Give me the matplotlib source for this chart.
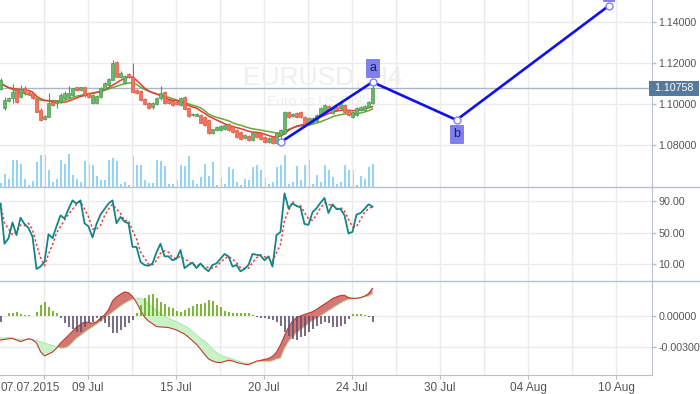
import numpy as np
import matplotlib
matplotlib.use("Agg")
import matplotlib.pyplot as plt
from matplotlib.transforms import ScaledTranslation, blended_transform_factory
from matplotlib.lines import Line2D

plt.rcParams['font.family'] = ['Liberation Sans', 'DejaVu Sans']

# --- data: EURUSD H4 candles ---
opens = [1.1073, 1.0979, 1.1016, 1.1028, 1.1068, 1.1033, 1.1077, 1.1060, 1.1052, 1.1023,
         1.0971, 1.0925, 1.0938, 1.1011, 1.1003, 1.1011, 1.1028, 1.1033, 1.1044, 1.1081,
         1.1068, 1.1081, 1.1052, 1.1003, 1.1003, 1.1036, 1.1072, 1.1093, 1.1117, 1.1206,
         1.1130, 1.1101, 1.1145, 1.1133, 1.1068, 1.1065, 1.1023, 1.1006, 1.0984, 1.1000,
         1.1028, 1.1060, 1.1020, 1.1016, 1.1011, 1.0995, 1.1036, 1.0979, 1.0945, 1.0943,
         1.0946, 1.0938, 1.0922, 1.0857, 1.0873, 1.0873, 1.0876, 1.0902, 1.0893, 1.0873,
         1.0865, 1.0833, 1.0844, 1.0824, 1.0860, 1.0857, 1.0838, 1.0816, 1.0838, 1.0808,
         1.0849, 1.0857, 1.0963, 1.0941, 1.0958, 1.0963, 1.0938, 1.0902, 1.0909, 1.0919,
         1.0946, 1.0962, 1.0990, 1.0955, 1.0987, 1.0979, 1.0995, 1.0971, 1.0938, 1.0946,
         1.0971, 1.0971, 1.0987, 1.1003]
highs = [1.1125, 1.1036, 1.1034, 1.1096, 1.1073, 1.1093, 1.1088, 1.1065, 1.1057, 1.1026,
         1.0980, 1.0945, 1.1052, 1.1016, 1.1020, 1.1055, 1.1062, 1.1088, 1.1080, 1.1083,
         1.1083, 1.1085, 1.1060, 1.1050, 1.1046, 1.1085, 1.1106, 1.1125, 1.1215, 1.1210,
         1.1160, 1.1140, 1.1150, 1.1199, 1.1072, 1.1070, 1.1028, 1.1010, 1.1010, 1.1033,
         1.1088, 1.1065, 1.1025, 1.1020, 1.1016, 1.1036, 1.1040, 1.0984, 1.0955, 1.0955,
         1.0950, 1.0943, 1.0927, 1.0880, 1.0893, 1.0898, 1.0900, 1.0906, 1.0898, 1.0878,
         1.0870, 1.0854, 1.0848, 1.0862, 1.0865, 1.0862, 1.0843, 1.0838, 1.0842, 1.0862,
         1.0880, 1.0968, 1.0968, 1.0954, 1.0963, 1.0968, 1.0943, 1.0935, 1.0935, 1.0950,
         1.0984, 1.1000, 1.0995, 1.0984, 1.0992, 1.1008, 1.1000, 1.0976, 1.0966, 1.0984,
         1.0988, 1.0994, 1.1016, 1.1109]
lows = [1.1068, 1.0971, 1.1012, 1.1003, 1.1003, 1.1028, 1.1044, 1.1044, 1.1023, 1.0960,
        1.0916, 1.0920, 1.0935, 1.0990, 1.0979, 1.1006, 1.1023, 1.1028, 1.1040, 1.1065,
        1.1065, 1.1036, 1.1030, 1.1000, 1.0998, 1.1030, 1.1068, 1.1090, 1.1115, 1.1130,
        1.1125, 1.1098, 1.1125, 1.1052, 1.1048, 1.1015, 1.0995, 1.0975, 1.0978, 1.0995,
        1.1020, 1.1000, 1.1002, 1.0990, 1.0995, 1.0990, 1.0970, 1.0936, 1.0940, 1.0940,
        1.0905, 1.0893, 1.0852, 1.0852, 1.0866, 1.0868, 1.0872, 1.0868, 1.0860, 1.0833,
        1.0823, 1.0828, 1.0819, 1.0820, 1.0833, 1.0823, 1.0811, 1.0812, 1.0805, 1.0804,
        1.0813, 1.0852, 1.0933, 1.0936, 1.0933, 1.0933, 1.0890, 1.0897, 1.0905, 1.0914,
        1.0942, 1.0958, 1.0966, 1.0950, 1.0966, 1.0975, 1.0958, 1.0942, 1.0934, 1.0942,
        1.0967, 1.0967, 1.0983, 1.1000]
closes = [1.1117, 1.1020, 1.1028, 1.1060, 1.1011, 1.1072, 1.1060, 1.1049, 1.1028, 1.0962,
          1.0922, 1.0941, 1.1006, 1.0995, 1.1016, 1.1044, 1.1052, 1.1052, 1.1077, 1.1068,
          1.1081, 1.1044, 1.1036, 1.1044, 1.1040, 1.1077, 1.1101, 1.1120, 1.1201, 1.1133,
          1.1153, 1.1137, 1.1130, 1.1060, 1.1052, 1.1020, 1.1000, 1.0979, 1.1006, 1.1028,
          1.1055, 1.1003, 1.1006, 1.0995, 1.1000, 1.1028, 1.0974, 1.0941, 1.0951, 1.0950,
          1.0909, 1.0898, 1.0857, 1.0876, 1.0888, 1.0893, 1.0896, 1.0873, 1.0865, 1.0838,
          1.0828, 1.0849, 1.0824, 1.0857, 1.0838, 1.0828, 1.0816, 1.0833, 1.0808, 1.0857,
          1.0873, 1.0963, 1.0938, 1.0949, 1.0938, 1.0938, 1.0898, 1.0930, 1.0930, 1.0946,
          1.0979, 1.0995, 1.0971, 1.0979, 1.0971, 1.1003, 1.0962, 1.0946, 1.0962, 1.0979,
          1.0984, 1.0990, 1.1011, 1.10758]
volumes = [400, 1340, 840, 2670, 2670, 2340, 840, 170, 600, 2500,
           3170, 3170, 1670, 500, 840, 2670, 2340, 3270, 1170, 840,
           500, 2570, 2340, 2170, 1070, 740, 740, 2740, 2900, 2570,
           340, 500, 170, 3070, 2170, 2170, 740, 400, 400, 2740,
           2570, 2070, 270, 270, 740, 2170, 2070, 3070, 700, 300,
           1000, 2340, 1070, 2500, 170, 1000, 340, 2000, 1840, 500,
           170, 840, 670, 2000, 2170, 1740, 940, 340, 500, 2000,
           2170, 3170, 340, 500, 2070, 670, 2170, 2670, 340, 1170,
           500, 2170, 1670, 1000, 340, 500, 2170, 1670, 1740, 170,
           1070, 840, 2000, 2270]
ma_fast = [1.1100, 1.1090, 1.1080, 1.1076, 1.1073, 1.1071, 1.1068, 1.1066, 1.1059, 1.1038,
           1.1026, 1.1018, 1.1015, 1.1011, 1.1009, 1.1007, 1.1009, 1.1014, 1.1022, 1.1029,
           1.1037, 1.1041, 1.1046, 1.1052, 1.1056, 1.1061, 1.1070, 1.1080, 1.1091, 1.1103,
           1.1115, 1.1124, 1.1131, 1.1132, 1.1116, 1.1097, 1.1078, 1.1064, 1.1055, 1.1049,
           1.1041, 1.1032, 1.1023, 1.1018, 1.1016, 1.1011, 1.1004, 1.0993, 1.0985, 1.0980,
           1.0967, 1.0955, 1.0941, 1.0932, 1.0922, 1.0913, 1.0904, 1.0896, 1.0890, 1.0885,
           1.0880, 1.0874, 1.0867, 1.0863, 1.0862, 1.0859, 1.0853, 1.0846, 1.0841, 1.0838,
           1.0844, 1.0854, 1.0871, 1.0883, 1.0892, 1.0897, 1.0900, 1.0906, 1.0916, 1.0927,
           1.0936, 1.0945, 1.0953, 1.0961, 1.0965, 1.0969, 1.0971, 1.0969, 1.0967, 1.0969,
           1.0971, 1.0976, 1.0981, 1.0987]
ma_slow = [1.1102, 1.1090, 1.1080, 1.1071, 1.1063, 1.1056, 1.1051, 1.1045, 1.1039, 1.1027,
           1.1018, 1.1017, 1.1017, 1.1016, 1.1016, 1.1016, 1.1019, 1.1024, 1.1032, 1.1038,
           1.1042, 1.1047, 1.1050, 1.1054, 1.1057, 1.1060, 1.1067, 1.1073, 1.1080, 1.1086,
           1.1093, 1.1099, 1.1102, 1.1103, 1.1096, 1.1082, 1.1071, 1.1063, 1.1056, 1.1049,
           1.1042, 1.1038, 1.1033, 1.1026, 1.1020, 1.1013, 1.1007, 1.1001, 1.0994, 1.0989,
           1.0981, 1.0968, 1.0952, 1.0942, 1.0935, 1.0930, 1.0924, 1.0918, 1.0909, 1.0901,
           1.0897, 1.0890, 1.0884, 1.0879, 1.0876, 1.0873, 1.0869, 1.0866, 1.0862, 1.0858,
           1.0859, 1.0866, 1.0876, 1.0883, 1.0889, 1.0893, 1.0895, 1.0897, 1.0901, 1.0907,
           1.0913, 1.0921, 1.0929, 1.0938, 1.0943, 1.0948, 1.0951, 1.0951, 1.0951, 1.0953,
           1.0956, 1.0961, 1.0967, 1.0976]

# oscillator (0-100)
osc = [87, 36, 43, 63, 47, 69, 61, 56, 45, 4,
       7, 13, 48, 43, 58, 72, 68, 80, 91, 87,
       91, 62, 58, 44, 61, 73, 80, 87, 91, 62,
       70, 64, 62, 32, 32, 13, 9, 8, 11, 25,
       36, 20, 20, 15, 17, 28, 5, 9, 12, 5,
       11, 5, 1, 9, 11, 17, 23, 20, 7, 9,
       1, 4, 9, 23, 22, 21, 15, 20, 7, 47,
       51, 100, 81, 87, 84, 82, 61, 60, 76, 81,
       88, 94, 75, 86, 80, 80, 72, 49, 51, 73,
       75, 80, 86, 83]

# MACD panel (x 1e-5)
macd_fast = [-232, -227, -221, -217, -233, -248, -234, -220, -230, -260,
             -345, -386, -368, -349, -312, -263, -225, -187, -147, -108,
             -83, -58, -62, -71, -56, -20, 10, 60, 145, 185,
             210, 233, 225, 190, 130, 55, -10, -50, -75, -102,
             -106, -108, -112, -123, -135, -155, -175, -205, -240, -275,
             -320, -370, -415, -435, -448, -451, -440, -428, -435, -450,
             -458, -467, -470, -455, -437, -430, -420, -412, -390, -350,
             -280, -190, -110, -50, -15, 0, 15, 28, 41, 63,
             90, 115, 140, 168, 185, 198, 200, 178, 171, 171,
             178, 192, 215, 268]
macd_slow = [-216, -212, -207, -213, -222, -226, -226, -226, -228, -237,
             -249, -262, -275, -287, -300, -312, -311, -295, -258, -218,
             -190, -160, -133, -108, -82, -56, -20, 5, 35, 65,
             95, 120, 143, 160, 171, 172, 150, 120, 85, 55,
             25, -5, -20, -40, -55, -75, -95, -118, -150, -185,
             -220, -240, -280, -320, -355, -378, -392, -405, -418, -432,
             -445, -455, -458, -450, -442, -442, -442, -442, -435, -418,
             -410, -320, -250, -205, -165, -135, -105, -75, -45, -25,
             0, 25, 50, 75, 100, 122, 145, 158, 166, 171,
             175, 183, 192, 213]
macd_hist = [-55, 0, 26, 29, 36, 16, 5, 5, 2, 40,
             106, 138, 84, 52, 26, -22, -71, -103, -129, -152,
             -152, -110, -71, -55, -22, -45, -71, -103, -168, -161,
             -135, -103, -71, -39, 26, 106, 171, 203, 213, 171,
             138, 116, 90, 74, 52, 40, 55, 80, 99, 112,
             118, 124, 150, 144, 111, 86, 53, 37, 31, 27,
             31, 27, 27, 8, -5, -18, -18, -27, -37, -60,
             -92, -156, -189, -221, -231, -205, -189, -156, -124, -92,
             -76, -60, -69, -102, -102, -92, -82, -27, 15, 15,
             18, 11, -5, -60]

# wave drawing (bar index, price)
wave_bars = [70, 93, 114, 152]
wave_prices = [1.0813, 1.1107, 1.0922, 1.1478]
wave_labels = ['', 'a', 'b', 'c']
last_price = 1.10758

tick_labels = ['07.07.2015', '09 Jul', '15 Jul', '20 Jul', '24 Jul', '30 Jul', '04 Aug', '10 Aug']
tick_slots = [1, 2, 4, 6, 8, 10, 12, 14]

n = len(closes)
x = np.arange(n)
o = np.array(opens); c = np.array(closes)
h = np.array(highs); l = np.array(lows)

W, H = 700, 394
fig = plt.figure(figsize=(7, 3.94), dpi=100)


def frame(top, bottom):
    return [0, (H - bottom) / H, 652 / W, (bottom - top) / H]


grid_col = '#ebebeb'
axis_col = '#b8c0cc'
txt_col = '#555555'

ax_vol = fig.add_axes(frame(0, 187))
ax_p = fig.add_axes(frame(0, 187), sharex=ax_vol)
ax_o = fig.add_axes(frame(187, 281), sharex=ax_vol)
ax_m = fig.add_axes(frame(281, 375), sharex=ax_vol)
ax_p.patch.set_alpha(0)

ax_vol.axis('off')
ax_vol.vlines(x, 0, volumes, color='#7fcdf5', lw=1.2)
ax_vol.set_ylim(0, 18700)
ax_vol.set_xlim(-0.125, 162.875)

grid_x = np.arange(1, 15) * 11 - 0.125
for ax in (ax_p, ax_o, ax_m):
    ax.set_xticks([grid_x[k - 1] for k in tick_slots])
    ax.set_xticks(grid_x, minor=True)
    ax.grid(True, which='both', axis='x', color=grid_col, lw=1)
    ax.grid(True, which='major', axis='y', color=grid_col, lw=1)
    ax.set_axisbelow(True)
    ax.yaxis.tick_right()
    ax.tick_params(axis='y', which='both', direction='out', length=3, width=1,
                   color=axis_col, labelcolor=txt_col, labelsize=7.7, pad=1.5)
    for s in ('left', 'top', 'bottom'):
        ax.spines[s].set_visible(False)
    ax.spines['right'].set_color(axis_col)
ax_p.tick_params(axis='x', which='both', length=0, labelbottom=False)
ax_o.tick_params(axis='x', which='both', length=0, labelbottom=False)
ax_m.spines['bottom'].set_visible(True)
ax_m.spines['bottom'].set_color(axis_col)
ax_m.tick_params(axis='x', which='major', length=3, color=axis_col,
                 labelcolor=txt_col, labelsize=8.5, pad=2)
ax_m.tick_params(axis='x', which='minor', length=0)
ax_m.set_xticklabels(tick_labels)
first = ax_m.get_xticklabels()[0]
first.set_transform(first.get_transform() + ScaledTranslation(-0.14, 0, fig.dpi_scale_trans))

# --- price panel ---
ax_p.set_ylim(1.059512, 1.150732)
ax_p.set_yticks([1.08, 1.10, 1.12, 1.14])
ax_p.set_yticklabels(['1.08000', '1.10000', '1.12000', '1.14000'])

ax_p.text(243 / 652, 1 - 77 / 187, 'EURUSD, H4', transform=ax_p.transAxes,
          fontsize=19, color='#efefef', ha='left', va='center', zorder=0.5)
ax_p.text(267 / 652, 1 - 102 / 187, 'Euro vs US Dollar', transform=ax_p.transAxes,
          fontsize=10, color='#efefef', ha='left', va='center', zorder=0.5)

ax_p.axhline(last_price, color='#a7b6c8', lw=1, zorder=1)

ax_p.plot(x, ma_slow, color='#6aa832', lw=1.1, zorder=2)
ax_p.plot(x, ma_fast, color='#e03c31', lw=1.1, zorder=2)

up = c >= o
fill = np.where(up, '#6cb56c', '#f2745f')
edge = np.where(up, '#4a994a', '#e5533d')
ax_p.vlines(x, l, h, colors=edge, lw=0.8, zorder=3)
body = np.maximum(np.abs(c - o), 0.00006)
ax_p.bar(x, body, bottom=np.minimum(o, c), width=0.65, color=fill,
         edgecolor=edge, linewidth=0.5, zorder=4)

ax_p.plot(wave_bars, wave_prices, color='#1010ee', lw=1.9, zorder=5)
ax_p.plot(wave_bars, wave_prices, 'o', ms=5, mfc='white', mec='#8080ff', mew=1, zorder=6)
for i, (wx, wy, lab) in enumerate(zip(wave_bars, wave_prices, wave_labels)):
    if not lab:
        continue
    dy = -10 if wy < wave_prices[i - 1] else 10
    ax_p.annotate(lab, (wx, wy), xytext=(0, dy), textcoords='offset points',
                  ha='center', va='center', fontsize=9, color='#1c1c5c',
                  bbox=dict(boxstyle='square,pad=0.22', fc='#7f7ff0', ec='#6a6ae0', lw=0.5),
                  zorder=7, clip_on=True)

ax_p.text(1.0, last_price, ' 1.10758 ', transform=blended_transform_factory(ax_p.transAxes, ax_p.transData),
          ha='left', va='center', color='white', fontsize=7.7, clip_on=False, zorder=8,
          bbox=dict(boxstyle='square,pad=0.25', fc='#56799e', ec='none'))

# --- oscillator panel ---
osc_s = np.array(osc, dtype=float)
signal = np.array([osc_s[max(0, i - 2):i + 1].mean() for i in range(n)])
ax_o.plot(x, signal, color='#e8413c', lw=1.1, ls=(0, (1.5, 1.5)))
ax_o.plot(x, osc_s, color='#138585', lw=1.3)
ax_o.set_ylim(-11.3, 108)
ax_o.set_yticks([10, 50, 90])
ax_o.set_yticklabels(['10.00', '50.00', '90.00'])

# --- MACD panel ---
mf = np.array(macd_fast) * 1e-5
ms = np.array(macd_slow) * 1e-5
mh = np.array(macd_hist) * 1e-5
ax_m.fill_between(x, mf, ms, where=mf >= ms, interpolate=True, color='#d47875', lw=0)
ax_m.fill_between(x, mf, ms, where=mf < ms, interpolate=True, color='#c9f2c9', lw=0)
ax_m.plot(x, ms, color='#b5e6b0', lw=0.8)
ax_m.plot(x, mf, color='#c0392b', lw=0.8)
ax_m.vlines(x, 0, mh, colors=np.where(mh > 0, '#66aa11', '#5f5070'), lw=1.2)
ax_m.set_ylim(-0.00571, 0.003387)
ax_m.set_yticks([-0.003, 0.0])
ax_m.set_yticklabels(['-0.00300', '0.00000'])

ax_m.set_xlim(-0.125, 162.875)

for yy in (187, 281):
    fig.add_artist(Line2D([0, 1], [1 - yy / H, 1 - yy / H], color=axis_col, lw=1,
                          transform=fig.transFigure))

fig.savefig('out.png', dpi=100, facecolor='white')
